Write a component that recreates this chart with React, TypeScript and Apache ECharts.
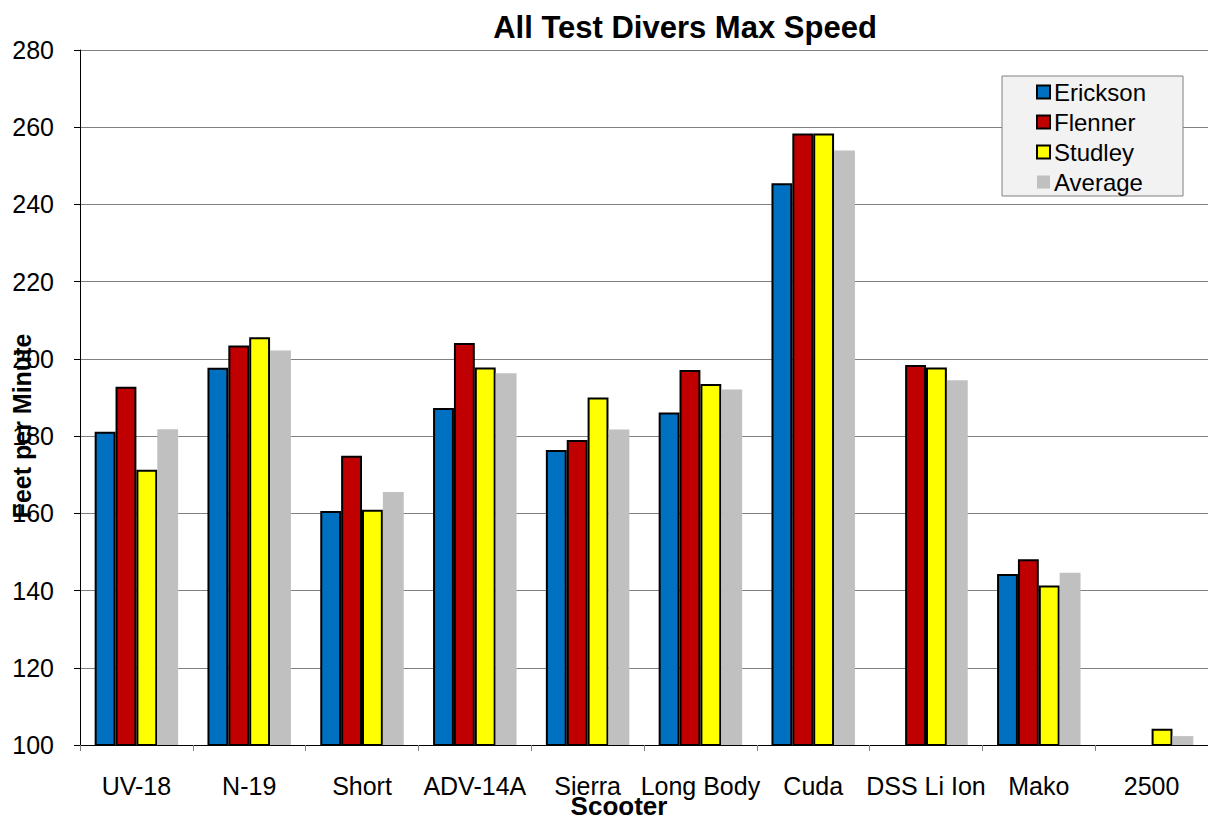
import React, { useEffect, useRef } from "react";
import * as echarts from "echarts";

const categories = ["UV-18", "N-19", "Short", "ADV-14A", "Sierra", "Long Body", "Cuda", "DSS Li Ion", "Mako", "2500"];
const erickson = [181.1, 197.7, 160.6, 187.3, 176.4, 186.1, 245.5, null, 144.3, null];
const flenner = [192.8, 203.5, 174.9, 204.1, 179.0, 197.1, 258.4, 198.4, 148.1, null];
const studley = [171.3, 205.6, 160.9, 197.8, 190.0, 193.5, 258.4, 197.8, 141.3, 104.2];
const average = [181.8, 202.2, 165.5, 196.3, 181.7, 192.1, 254.0, 194.5, 144.6, 102.3];
const yTicks = { min: 100, max: 280, interval: 20 };

const FONT = "Liberation Sans, Arial, sans-serif";

export default function App() {
  const ref = useRef<HTMLDivElement>(null);
  useEffect(() => {
    if (!ref.current) return;
    const chart = echarts.init(ref.current, null, { renderer: "svg" });
    const bordered = (name: string, data: (number | null)[], color: string) => ({
      name,
      type: "bar",
      data,
      barCategoryGap: "26%",
      barGap: "0%",
      itemStyle: { color, borderColor: "#000", borderWidth: 2 },
    });
    chart.setOption({
      animation: false,
      backgroundColor: "#fff",
      textStyle: { fontFamily: FONT },
      title: {
        text: "All Test Divers Max Speed",
        left: 680,
        textAlign: "center",
        top: 7,
        textStyle: { fontFamily: FONT, fontSize: 31, fontWeight: "bold", color: "#000" },
      },
      legend: {
        orient: "vertical",
        left: 1002,
        top: 76,
        backgroundColor: "#f2f2f2",
        borderColor: "#808080",
        borderWidth: 1,
        borderRadius: 0,
        padding: [4, 37, 2, 34],
        itemGap: 6,
        itemWidth: 13,
        itemHeight: 13,
        textStyle: { fontFamily: FONT, fontSize: 24, color: "#000", padding: [0, 0, 0, -1] },
        data: [
          { name: "Erickson", icon: "rect" },
          { name: "Flenner", icon: "rect" },
          { name: "Studley", icon: "rect" },
          { name: "Average", icon: "rect" },
        ],
      },
      grid: { left: 80, top: 50, width: 1135, height: 695, containLabel: false },
      xAxis: {
        type: "category",
        data: categories,
        axisLine: { lineStyle: { color: "#000", width: 1 } },
        axisTick: { show: true, length: 6, lineStyle: { color: "#808080" } },
        axisLabel: { fontFamily: FONT, fontSize: 25, color: "#000", margin: 28, interval: 0 },
      },
      yAxis: {
        type: "value",
        min: yTicks.min,
        max: yTicks.max,
        interval: yTicks.interval,
        axisLine: { show: true, lineStyle: { color: "#000", width: 1 } },
        axisTick: { show: true, length: 6, lineStyle: { color: "#000" } },
        axisLabel: { fontFamily: FONT, fontSize: 25, color: "#000", margin: 26 },
        splitLine: { lineStyle: { color: "#808080", width: 1 } },
      },
      graphic: [
        {
          type: "text",
          x: 22,
          y: 426,
          rotation: Math.PI / 2,
          style: {
            text: "Feet per Minute",
            font: `bold 25px ${FONT}`,
            fill: "#000",
            align: "center",
            verticalAlign: "middle",
          },
        },
        {
          type: "text",
          x: 619,
          y: 806,
          style: {
            text: "Scooter",
            font: `bold 26px ${FONT}`,
            fill: "#000",
            align: "center",
            verticalAlign: "middle",
          },
        },
      ],
      series: [
        bordered("Erickson", erickson, "#0070C0"),
        bordered("Flenner", flenner, "#C00000"),
        bordered("Studley", studley, "#FFFF00"),
        {
          name: "Average",
          type: "bar",
          data: average,
          barCategoryGap: "26%",
          barGap: "0%",
          itemStyle: { color: "#C0C0C0" },
        },
      ],
    });
    return () => chart.dispose();
  }, []);
  return (
    <div
      ref={ref}
      style={{ position: "absolute", left: 0, top: 0, width: 1208, height: 820, overflow: "hidden" }}
    />
  );
}
